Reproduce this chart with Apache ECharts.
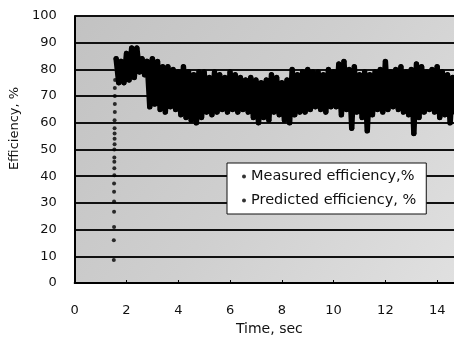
<!DOCTYPE html>
<html>
<head>
<meta charset="utf-8">
<script src="https://cdn.jsdelivr.net/npm/echarts@6/dist/echarts.min.js"></script>
<style>html,body{margin:0;padding:0;background:#fff;}#c{width:454px;height:341px;}</style>
</head>
<body>
<div id="c"></div>
<script>
const xTicks = [0, 2, 4, 6, 8, 10, 12, 14];
const yTicks = [0, 10, 20, 30, 40, 50, 60, 70, 80, 90, 100];

const riseTime  = [1.51, 1.51, 1.52, 1.52, 1.52, 1.52, 1.52, 1.53, 1.53, 1.53, 1.53, 1.53, 1.54, 1.54, 1.54, 1.54, 1.54, 1.55, 1.55, 1.55, 1.55, 1.56];
const riseValue = [8.6, 16, 21, 26.7, 30.5, 34.2, 37.3, 40.4, 43, 45.4, 47, 50, 52, 54, 56, 58, 61, 64, 67, 70, 73, 76];

const measuredTime = [
  1.6,1.7,1.8,1.9,2.0,2.1,2.2,2.3,2.4,2.5,2.6,2.7,2.8,2.9,3.0,3.1,3.2,3.3,3.4,3.5,
  3.6,3.7,3.8,3.9,4.0,4.1,4.2,4.3,4.4,4.5,4.6,4.7,4.8,4.9,5.0,5.1,5.2,5.3,5.4,5.5,
  5.6,5.7,5.8,5.9,6.0,6.1,6.2,6.3,6.4,6.5,6.6,6.7,6.8,6.9,7.0,7.1,7.2,7.3,7.4,7.5,
  7.6,7.7,7.8,7.9,8.0,8.1,8.2,8.3,8.4,8.5,8.6,8.7,8.8,8.9,9.0,9.1,9.2,9.3,9.4,9.5,
  9.6,9.7,9.8,9.9,10.0,10.1,10.2,10.3,10.4,10.5,10.6,10.7,10.8,10.9,11.0,11.1,11.2,11.3,11.4,11.5,
  11.6,11.7,11.8,11.9,12.0,12.1,12.2,12.3,12.4,12.5,12.6,12.7,12.8,12.9,13.0,13.1,13.2,13.3,13.4,13.5,
  13.6,13.7,13.8,13.9,14.0,14.1,14.2,14.3,14.4,14.5,14.6,14.7
];
const measuredValue = [
  84,75,83,75,86,76,88,77,88,79,84,78,83,66,84,67,83,65,81,64,
  81,66,80,65,79,63,81,62,79,61,78,60,79,62,79,64,77,63,79,64,
  78,65,77,64,79,65,78,64,77,65,76,64,77,62,76,60,75,62,76,61,
  78,64,77,63,75,61,76,60,80,63,78,64,79,64,80,65,79,66,79,65,
  78,64,80,66,79,66,82,63,83,65,80,58,81,64,78,62,79,57,78,63,
  79,65,80,64,83,65,79,66,80,65,81,64,79,63,80,56,82,62,81,64,
  79,65,80,64,81,62,79,63,78,60,77,64
];

const predictedTime = [
  1.6,1.8,2.0,2.2,2.4,2.6,2.8,3.0,3.2,3.4,3.6,3.8,4.0,4.2,4.4,4.6,4.8,5.0,5.2,5.4,
  5.6,5.8,6.0,6.2,6.4,6.6,6.8,7.0,7.2,7.4,7.6,7.8,8.0,8.2,8.4,8.6,8.8,9.0,9.2,9.4,
  9.6,9.8,10.0,10.2,10.4,10.6,10.8,11.0,11.2,11.4,11.6,11.8,12.0,12.2,12.4,12.6,12.8,13.0,13.2,13.4,
  13.6,13.8,14.0,14.2,14.4,14.6
];
const predictedValue = [
  80,80,81,83,83,81,77,75,74,73,72,72,71,71,70,70,70,71,70,71,
  71,70,71,71,70,70,70,69,69,69,70,70,69,69,71,71,72,72,72,72,
  72,72,73,73,73,72,72,71,71,71,72,72,73,73,72,72,72,72,72,73,
  73,72,72,72,71,71
];

const seriesNames = ['Measured efficiency,%', 'Predicted efficiency, %'];

function pairs(xs, ys) { return xs.map((x, i) => [x, ys[i]]); }

const chart = echarts.init(document.getElementById('c'), null, { renderer: 'canvas' });
const FONT = 'DejaVu Sans';
chart.setOption({
  animation: false,
  backgroundColor: '#ffffff',
  textStyle: { fontFamily: FONT, color: '#111' },
  grid: {
    left: 70, top: 16, bottom: 58, right: 0,
    show: true,
    borderWidth: 0,
    backgroundColor: new echarts.graphic.LinearGradient(0, 0, 1, 1, [
      { offset: 0, color: '#c2c2c2' },
      { offset: 0.5, color: '#cfcfcf' },
      { offset: 1, color: '#e0e0e0' }
    ])
  },
  legend: {
    left: 227, top: 163,
    orient: 'vertical',
    backgroundColor: '#ffffff',
    borderColor: '#111',
    borderWidth: 1,
    padding: [6, 10, 6, 15],
    itemGap: 9,
    itemWidth: 4, itemHeight: 4,
    icon: 'circle',
    textStyle: { fontFamily: FONT, fontSize: 14.5, color: '#111' },
    data: [
      { name: seriesNames[0], itemStyle: { color: '#000' } },
      { name: seriesNames[1], itemStyle: { color: '#000' } }
    ]
  },
  xAxis: {
    type: 'value',
    min: 0, max: 14.65, interval: 2,
    name: 'Time, sec',
    nameLocation: 'middle',
    nameGap: 38,
    nameTextStyle: { fontFamily: FONT, fontSize: 14, color: '#111', padding: [0, 0, 0, 10] },
    axisLine: { show: true, onZero: false, lineStyle: { color: '#000', width: 2 } },
    axisTick: { show: true, inside: true, length: 3, lineStyle: { color: '#000' } },
    axisLabel: {
      fontFamily: FONT, fontSize: 13, color: '#111', margin: 21,
      showMaxLabel: false,
      formatter: v => (xTicks.indexOf(v) >= 0 ? String(v) : '')
    },
    splitLine: { show: false }
  },
  yAxis: {
    type: 'value',
    min: 0, max: 100, interval: 10,
    name: 'Efficiency, %',
    nameLocation: 'middle',
    nameGap: 42,
    nameRotate: 90,
    nameTextStyle: { fontFamily: FONT, fontSize: 13, color: '#111', padding: [0, 0, 0, 42] },
    axisLine: { show: true, lineStyle: { color: '#000', width: 2 } },
    axisTick: { show: false },
    axisLabel: {
      fontFamily: FONT, fontSize: 13, color: '#111', margin: 18,
      formatter: v => (yTicks.indexOf(v) >= 0 ? String(v) : '')
    },
    splitLine: { show: true, lineStyle: { color: '#111', width: 2 } }
  },
  series: [
    {
      name: seriesNames[1],
      type: 'scatter',
      data: pairs(predictedTime, predictedValue),
      symbol: 'circle', symbolSize: 3,
      itemStyle: { color: '#8a8a8a' },
      z: 2
    },
    {
      name: seriesNames[0],
      type: 'scatter',
      data: pairs(riseTime, riseValue),
      symbol: 'circle', symbolSize: 4,
      itemStyle: { color: '#000' },
      z: 3
    },
    {
      name: seriesNames[0],
      type: 'line',
      data: pairs(measuredTime, measuredValue),
      showSymbol: true, symbol: 'circle', symbolSize: 5,
      lineStyle: { color: '#000', width: 5.5, join: 'round', cap: 'round' },
      itemStyle: { color: '#000' },
      z: 3
    }
  ]
});
</script>
</body>
</html>
